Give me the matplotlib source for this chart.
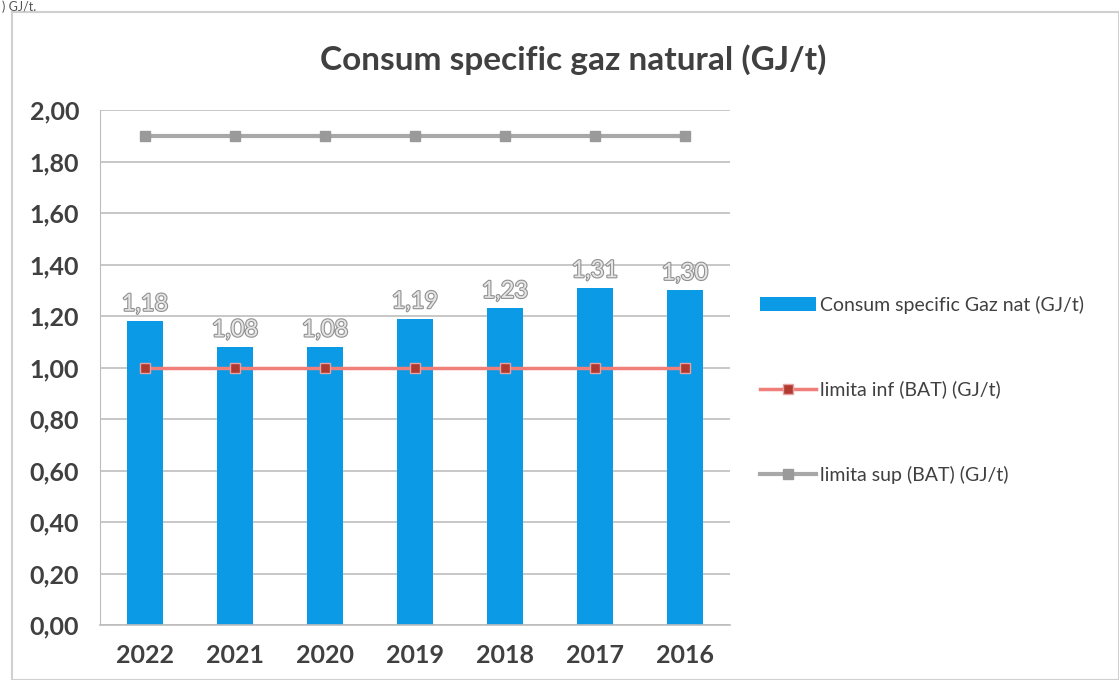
import matplotlib.pyplot as plt
import matplotlib.patheffects as pe
from matplotlib.patches import Rectangle

years = ["2022", "2021", "2020", "2019", "2018", "2017", "2016"]
consum = [1.18, 1.08, 1.08, 1.19, 1.23, 1.31, 1.30]
limita_inf = [1.00, 1.00, 1.00, 1.00, 1.00, 1.00, 1.00]
limita_sup = [1.90, 1.90, 1.90, 1.90, 1.90, 1.90, 1.90]
yticks = [0.0, 0.2, 0.4, 0.6, 0.8, 1.0, 1.2, 1.4, 1.6, 1.8, 2.0]

plt.rcParams["font.family"] = ["Lato", "DejaVu Sans"]

fig = plt.figure(figsize=(11.19, 6.8), dpi=100)
ax = fig.add_axes([100 / 1119, 1 - 625 / 680, 630 / 1119, 515 / 680])

# chart border
fig.patches.append(Rectangle((12 / 1119, 0), 1 - 12 / 1119, 1 - 12 / 680,
                             transform=fig.transFigure, fill=False,
                             edgecolor="#d0d0d0", linewidth=1.5))
fig.text(0.002, 0.999, ") GJ/t.", fontsize=9, color="#555555", va="top", ha="left")

x = list(range(len(years)))
bars = ax.bar(x, consum, width=0.39, color="#0b9be6", zorder=2,
              label="Consum specific Gaz nat (GJ/t)")
ax.plot(x, limita_inf, color="#ef7f78", linewidth=2.5, marker="s", markersize=7,
        markerfacecolor="#b03a30", markeredgecolor="#e8a0a0", zorder=3,
        label="limita inf (BAT) (GJ/t)")
ax.plot(x, limita_sup, color="#a8a8a8", linewidth=3, marker="s", markersize=7,
        markerfacecolor="#9a9a9a", markeredgecolor="#9a9a9a", zorder=3,
        label="limita sup (BAT) (GJ/t)")

for xi, v in zip(x, consum):
    ax.text(xi, v + 0.025, f"{v:.2f}".replace(".", ","), ha="center", va="bottom",
            fontsize=17, color="#e6e6e6",
            path_effects=[pe.withStroke(linewidth=1.6, foreground="#909090")])

ax.set_xlim(-0.5, len(years) - 0.5)
ax.set_ylim(0, 2.0)
ax.set_yticks(yticks)
ax.set_yticklabels([f"{t:.2f}".replace(".", ",") for t in yticks])
ax.set_xticks(x)
ax.set_xticklabels(years)
ax.tick_params(axis="both", length=0, labelsize=18, colors="#404040")
ax.yaxis.set_tick_params(pad=15)
ax.xaxis.set_tick_params(pad=14)
for lab in ax.get_xticklabels() + ax.get_yticklabels():
    lab.set_fontweight("bold")

ax.grid(axis="y", color="#bdbdbd", linewidth=1.2, zorder=0)
ax.set_axisbelow(True)
for s in ["top", "right"]:
    ax.spines[s].set_visible(False)
ax.spines["left"].set_color("#bdbdbd")
ax.spines["bottom"].set_color("#bdbdbd")
ax.spines["bottom"].set_linewidth(1.2)

fig.text(0.512, 1 - 60 / 680, "Consum specific gaz natural (GJ/t)", ha="center",
         va="center", fontsize=24, fontweight="bold", color="#404040")

handles, labels = ax.get_legend_handles_labels()
order = [2, 0, 1]
fig.legend([handles[i] for i in order], [labels[i] for i in order],
           loc="upper left", bbox_to_anchor=(742 / 1119, 1 - 278 / 680), frameon=False,
           fontsize=14, labelspacing=3.45, handlelength=2.9, handletextpad=0.2,
           labelcolor="#404040")

fig.savefig("out.png", dpi=100)
